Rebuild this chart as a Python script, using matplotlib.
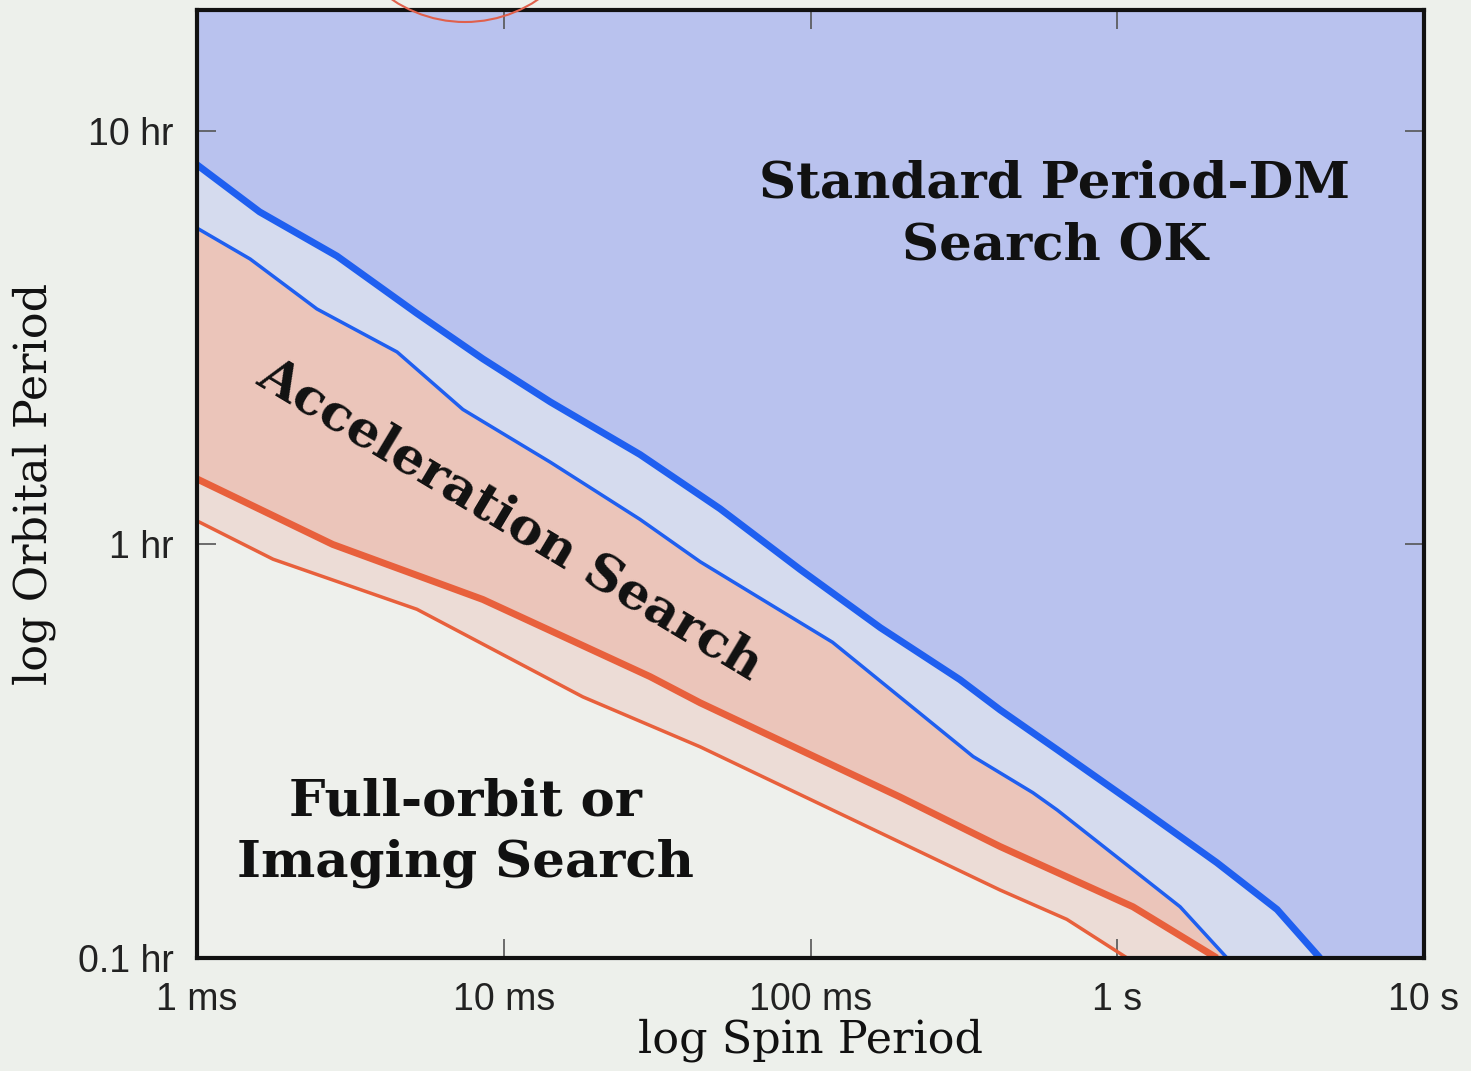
import numpy as np
import matplotlib
matplotlib.use("Agg")
import matplotlib.pyplot as plt
from matplotlib.patches import Circle

# curves: spin period (ms) vs orbital period (hr)
thick_blue_spin_ms = [1.0, 1.60, 2.86, 5.21, 8.55, 14.2, 27.8, 50.7, 92.5, 169, 307, 415, 637, 1213, 2113, 3319, 4581]
thick_blue_orb_hr = [8.28, 6.37, 4.98, 3.62, 2.81, 2.21, 1.65, 1.22, 0.870, 0.629, 0.471, 0.398, 0.319, 0.228, 0.170, 0.131, 0.100]

thin_blue_spin_ms = [1.0, 1.49, 2.46, 4.49, 7.36, 14.2, 27.8, 43.7, 118, 339, 531, 637, 1603, 2280]
thin_blue_orb_hr = [5.82, 4.90, 3.71, 2.92, 2.12, 1.58, 1.15, 0.908, 0.580, 0.307, 0.251, 0.228, 0.133, 0.100]

thick_red_spin_ms = [1.0, 2.77, 8.55, 30.0, 43.7, 196, 415, 1125, 2113]
thick_red_orb_hr = [1.44, 1.0, 0.736, 0.479, 0.414, 0.245, 0.186, 0.133, 0.100]

thin_red_spin_ms = [1.0, 1.77, 5.21, 18.1, 43.7, 415, 685, 1077]
thin_red_orb_hr = [1.14, 0.921, 0.697, 0.428, 0.324, 0.146, 0.124, 0.100]

x_ticks = [1, 10, 100, 1000, 10000]
x_ticklabels = ["1 ms", "10 ms", "100 ms", "1 s", "10 s"]
y_ticks = [0.1, 1, 10]
y_ticklabels = ["0.1 hr", "1 hr", "10 hr"]

x_min, x_max = 1.0, 10000.0
y_min, y_max = 0.1, 19.6

bg = "#edf0eb"

fig = plt.figure(figsize=(14.71, 10.71), dpi=100, facecolor=bg)
ax = fig.add_axes([197 / 1471, 113 / 1071, 1227 / 1471, 948 / 1071])
ax.set_facecolor("#eef0ec")
ax.set_xscale("log")
ax.set_yscale("log")
ax.set_xlim(x_min, x_max)
ax.set_ylim(y_min, y_max)

def band(xa, ya, xb, yb):
    return (np.concatenate([xa, xb[::-1]]), np.concatenate([ya, yb[::-1]]))

tbx, tby = np.array(thick_blue_spin_ms), np.array(thick_blue_orb_hr)
nbx, nby = np.array(thin_blue_spin_ms), np.array(thin_blue_orb_hr)
trx, try_ = np.array(thick_red_spin_ms), np.array(thick_red_orb_hr)
nrx, nry = np.array(thin_red_spin_ms), np.array(thin_red_orb_hr)

# shaded regions between the curves
top_x = np.concatenate([tbx, [x_max, x_max, x_min]])
top_y = np.concatenate([tby, [y_min, y_max, y_max]])
ax.fill(top_x, top_y, color="#b9c2ee", lw=0, zorder=1)
ax.fill(*band(tbx, tby, nbx, nby), color="#d5dbee", lw=0, zorder=1)
ax.fill(*band(nbx, nby, trx, try_), color="#ebc5ba", lw=0, zorder=1)
ax.fill(*band(trx, try_, nrx, nry), color="#ecdcd6", lw=0, zorder=1)

blue = "#1f5ff0"
red = "#e8603c"
ax.plot(tbx, tby, color=blue, lw=5, solid_capstyle="butt", zorder=3)
ax.plot(nbx, nby, color=blue, lw=2.5, solid_capstyle="butt", zorder=3)
ax.plot(trx, try_, color=red, lw=5, solid_capstyle="butt", zorder=3)
ax.plot(nrx, nry, color=red, lw=2.5, solid_capstyle="butt", zorder=3)

ax.set_xticks(x_ticks)
ax.set_xticklabels(x_ticklabels)
ax.set_yticks(y_ticks)
ax.set_yticklabels(y_ticklabels)
ax.minorticks_off()
ax.tick_params(which="major", direction="in", length=14, width=1.2, color="#555555",
               top=True, right=True, pad=17, labelsize=27, labelcolor="#222222")
for lab in ax.get_xticklabels() + ax.get_yticklabels():
    lab.set_family(["Liberation Sans", "DejaVu Sans"])

for s in ax.spines.values():
    s.set_linewidth(3)
    s.set_color("#111111")
    s.set_zorder(5)

ax.set_xlabel("log Spin Period", family="DejaVu Serif", fontsize=32, color="#111111")
ax.set_ylabel("log Orbital Period", family="DejaVu Serif", fontsize=32, color="#111111")
ax.xaxis.set_label_coords(0.5, -0.064)
ax.yaxis.set_label_coords(-0.115, 0.5)

txt = dict(family="DejaVu Serif", weight="bold", fontsize=37, color="#111111",
           ha="center", va="center", zorder=6)
ax.text(0.699, 0.784, "Standard Period-DM\nSearch OK", transform=ax.transAxes,
        linespacing=1.33, **txt)
ax.text(0.219, 0.132, "Full-orbit or\nImaging Search", transform=ax.transAxes,
        linespacing=1.33, **txt)
ax.text(0.255, 0.462, "Acceleration Search", transform=ax.transAxes, rotation=-31,
        rotation_mode="anchor", **txt)

# red annotation circle cut off at the top of the slide
circ = Circle((4.65, 11.79), 1.30, transform=fig.dpi_scale_trans, fill=False,
              ec="#e0604c", lw=1.5, clip_on=False)
fig.add_artist(circ)

fig.savefig("out.png", dpi=100, facecolor=bg)
